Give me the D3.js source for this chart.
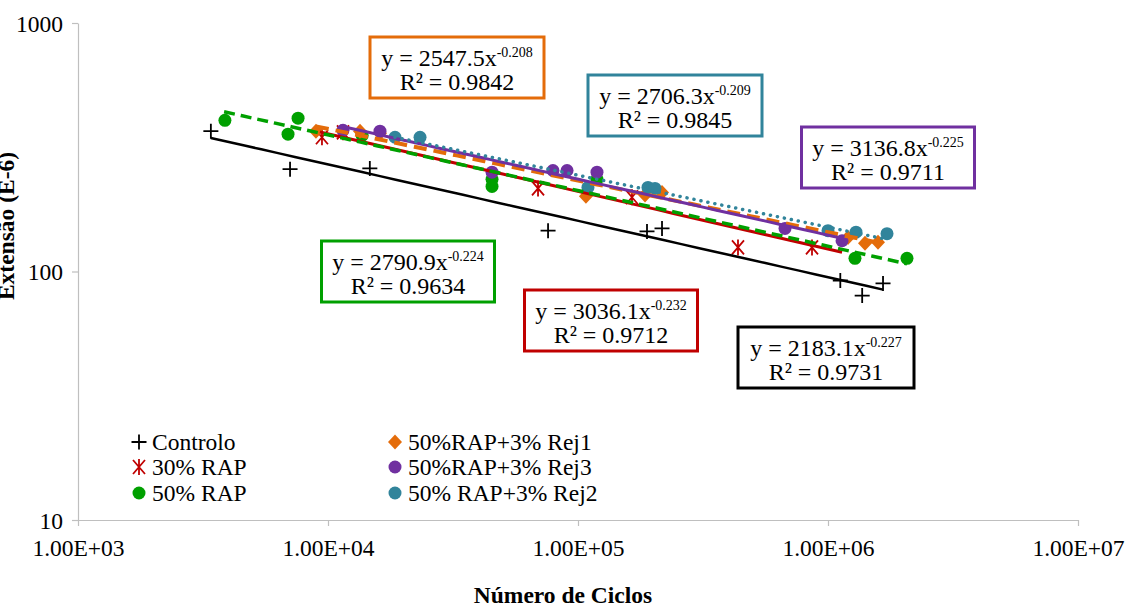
<!DOCTYPE html>
<html>
<head>
<meta charset="utf-8">
<script src="https://cdn.jsdelivr.net/npm/d3@7"></script>
<style>
  body { margin: 0; background: #fff; }
  svg, svg text, svg tspan { font-family: "Liberation Serif", serif !important; }
</style>
</head>
<body>
<script>
const width = 1126;
const height = 609;
const serif = "Liberation Serif";

// Series names (legend order)
const seriesNames = ["Controlo", "30% RAP", "50% RAP", "50%RAP+3% Rej1", "50%RAP+3% Rej3", "50% RAP+3% Rej2"];

// Number of cycles / strain (E-6)
const controloX = [3400, 7050, 14700, 75900, 188800, 216800, 1120000, 1370000, 1660000];
const controloY = [367, 258, 260, 146, 145, 149, 92, 80, 89.5];

const rap30X = [9460, 11480, 69200, 164400, 436500, 863000];
const rap30Y = [347, 363, 216, 199, 125, 125];

const rap50X = [3870, 7590, 6920, 13700, 45300, 45300, 119100, 1282000, 2070000];
const rap50Y = [406, 414, 357, 353, 235, 220, 235, 113, 113];

const rej1X = [8950, 13430, 16140, 107600, 185400, 216800, 1202000, 1406000, 1585000];
const rej1Y = [367, 367, 360, 201, 203, 208, 137, 130, 131];

const rej3X = [11480, 16140, 45300, 79400, 90400, 119100, 673000, 1138000];
const rej3Y = [370, 367, 251, 255, 255, 251, 149, 133];

const rej2X = [18540, 23340, 109600, 190500, 203200, 1000000, 1294000, 1722000];
const rej2Y = [347, 347, 218, 218, 216, 146, 144, 142];

// Power trendlines y = a * x^b
const trendA = [2183.1, 3036.1, 2790.9, 2547.5, 3136.8, 2706.3];
const trendB = [-0.227, -0.232, -0.224, -0.208, -0.225, -0.209];
const trendR2 = [0.9731, 0.9712, 0.9634, 0.9842, 0.9711, 0.9845];
// x span of each trendline as drawn
const trendFrom = [3400, 9290, 3840, 8950, 11170, 18540];
const trendTo = [1660000, 1138000, 2070000, 1585000, 1138000, 1722000];

// Axis ticks
const xTicks = [1e3, 1e4, 1e5, 1e6, 1e7];
const yTicks = [10, 100, 1000];

const seriesX = [controloX, rap30X, rap50X, rej1X, rej3X, rej2X];
const seriesY = [controloY, rap30Y, rap50Y, rej1Y, rej3Y, rej2Y];

// styling
const colors = ["#000000", "#C00000", "#00A000", "#E46C0A", "#7030A0", "#31849B"];
const markers = ["plus", "star", "circle", "diamond", "circle", "circle"];
const lineDash = [null, null, "11,6", "13,7", null, "0.1,7"];
const lineWidth = [2.5, 3, 3.5, 4, 3, 3.5];

// equation label boxes (layout)
const boxCx = [826, 611, 408, 457, 888, 675];
const boxTop = [327, 290, 241, 37, 127, 75];
const boxW = [176, 173, 173, 174, 173, 174];
const boxH = 61;

const svg = d3.select("body").append("svg")
  .attr("width", width).attr("height", height)
  .attr("font-family", serif);

const xScale = d3.scaleLog().domain([1e3, 1e7]).range([78, 1078]);
const yScale = d3.scaleLog().domain([10, 1000]).range([520, 23]);

function sci(d) {
  const e = Math.round(Math.log10(d));
  return "1.00E+" + String(e).padStart(2, "0");
}

// axes
const xAxis = svg.append("g")
  .attr("transform", "translate(0,520)")
  .call(d3.axisBottom(xScale).tickValues(xTicks).tickFormat(sci).tickSize(6).tickSizeOuter(0));
const yAxis = svg.append("g")
  .attr("transform", "translate(78,0)")
  .call(d3.axisLeft(yScale).tickValues(yTicks).tickFormat(d3.format("d")).tickSize(6).tickSizeOuter(0));

[xAxis, yAxis].forEach(g => {
  g.attr("font-family", serif).attr("font-size", 23.5);
  g.select(".domain").attr("stroke", "#bfbfbf").attr("stroke-width", 1.2);
  g.selectAll(".tick line").attr("stroke", "#bfbfbf").attr("stroke-width", 1.2);
  g.selectAll(".tick text").attr("fill", "#000");
});
xAxis.selectAll(".tick text").attr("y", 19).attr("dy", "0.71em");
yAxis.selectAll(".tick text").attr("x", -15).attr("dy", "0.34em");

// axis titles
svg.append("text")
  .attr("x", 563).attr("y", 603)
  .attr("text-anchor", "middle")
  .attr("font-size", 23.5).attr("font-weight", "bold")
  .text("Número de Ciclos");

svg.append("text")
  .attr("transform", "translate(14,226) rotate(-90)")
  .attr("text-anchor", "middle")
  .attr("font-size", 23.5).attr("font-weight", "bold")
  .text("Extensão (E-6)");

// marker drawing
function drawMarker(g, type, color) {
  if (type === "plus") {
    g.append("path").attr("d", "M-7.5,0H7.5M0,-7.5V7.5")
      .attr("stroke", color).attr("stroke-width", 1.8).attr("fill", "none");
  } else if (type === "star") {
    g.append("path").attr("d", "M-6,-7L6,7M-6,7L6,-7M0,-8V8")
      .attr("stroke", color).attr("stroke-width", 1.8).attr("fill", "none");
  } else if (type === "diamond") {
    g.append("path").attr("d", "M0,-7.5L7,0L0,7.5L-7,0Z").attr("fill", color);
  } else {
    g.append("circle").attr("r", 6.5).attr("fill", color);
  }
}

// points
seriesX.forEach((xs, i) => {
  const g = svg.append("g");
  xs.forEach((x, j) => {
    const m = g.append("g").attr("transform", `translate(${xScale(x)},${yScale(seriesY[i][j])})`);
    drawMarker(m, markers[i], colors[i]);
  });
});

// trendlines
const line = d3.line().x(d => xScale(d.x)).y(d => yScale(d.y));
trendA.forEach((a, i) => {
  const pts = d3.range(0, 41).map(k => {
    const x = trendFrom[i] * Math.pow(trendTo[i] / trendFrom[i], k / 40);
    return { x, y: a * Math.pow(x, trendB[i]) };
  });
  svg.append("path")
    .datum(pts)
    .attr("d", line)
    .attr("fill", "none")
    .attr("stroke", colors[i])
    .attr("stroke-width", lineWidth[i])
    .attr("stroke-dasharray", lineDash[i])
    .attr("stroke-linecap", i === 5 ? "round" : "butt");
});

// equation boxes
trendA.forEach((a, i) => {
  const g = svg.append("g");
  g.append("rect")
    .attr("x", boxCx[i] - boxW[i] / 2).attr("y", boxTop[i])
    .attr("width", boxW[i]).attr("height", boxH)
    .attr("fill", "#fff")
    .attr("stroke", colors[i]).attr("stroke-width", 3);
  const t1 = g.append("text")
    .attr("x", boxCx[i]).attr("y", boxTop[i] + 29)
    .attr("text-anchor", "middle")
    .attr("font-size", 24);
  t1.append("tspan").text(`y = ${a.toFixed(1)}x`);
  t1.append("tspan").attr("dy", -9).attr("font-size", 14).text(trendB[i].toFixed(3));
  g.append("text")
    .attr("x", boxCx[i]).attr("y", boxTop[i] + 53)
    .attr("text-anchor", "middle")
    .attr("font-size", 24)
    .text(`R² = ${trendR2[i].toFixed(4)}`);
});

// legend
const legCol = [139, 139, 139, 395, 395, 395];
const legRow = [442, 467, 493, 442, 467, 493];
seriesNames.forEach((name, i) => {
  const g = svg.append("g").attr("transform", `translate(${legCol[i]},${legRow[i]})`);
  drawMarker(g, markers[i], colors[i]);
  g.append("text").attr("x", 13).attr("y", 8)
    .attr("font-size", 23.5)
    .text(name);
});
</script>
</body>
</html>
